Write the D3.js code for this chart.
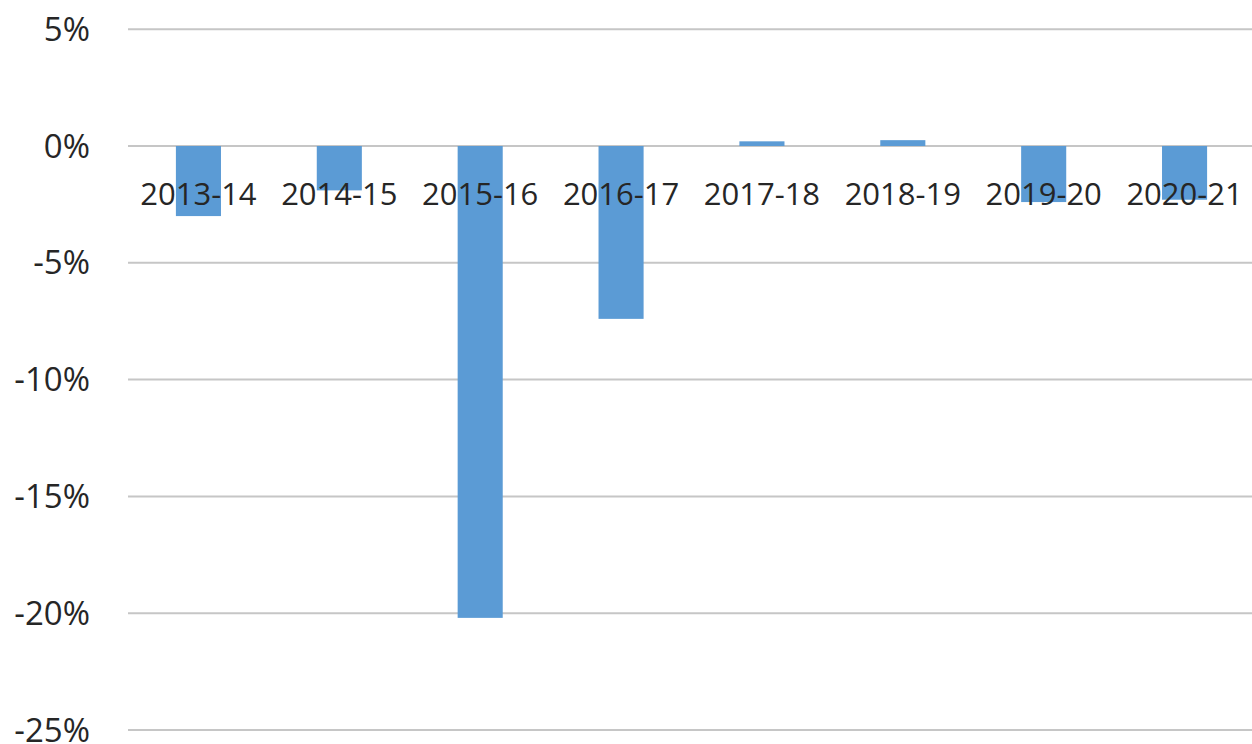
<!DOCTYPE html>
<html>
<head>
<meta charset="utf-8">
<script src="https://cdn.jsdelivr.net/npm/d3@7"></script>
<style>
  body { margin: 0; background: #fff; }
  #chart svg { display: block; }
  .tick-label { font-family: "Open Sans", sans-serif; fill: #262626; }
</style>
</head>
<body>
<div id="chart"></div>
<script>
// --- Data ---
const categories = ["2013-14", "2014-15", "2015-16", "2016-17", "2017-18", "2018-19", "2019-20", "2020-21"];
const values = [-3.0, -1.9, -20.2, -7.4, 0.2, 0.25, -2.4, -2.3];
const yTicks = [5, 0, -5, -10, -15, -20, -25];

// --- Layout ---
const width = 1252, height = 744;
const plotLeft = 128, plotRight = 1255;
const barColor = "#5b9bd5";

const svg = d3.select("#chart").append("svg").attr("width", width).attr("height", height);

const x = d3.scaleBand().domain(categories).range([plotLeft, plotRight]).padding(0);
const y = d3.scaleLinear().domain([-25, 5]).range([730, 29.2]);
const barW = x.bandwidth() * 0.32;

// gridlines
svg.append("g").selectAll("line").data(yTicks).join("line")
    .attr("x1", plotLeft).attr("x2", width)
    .attr("y1", d => y(d)).attr("y2", d => y(d))
    .attr("stroke", "#c6c6c6").attr("stroke-width", 2);

// y labels
svg.append("g").selectAll("text").data(yTicks).join("text")
    .attr("class", "tick-label")
    .attr("x", 90).attr("y", d => y(d)).attr("dy", "0.35em")
    .attr("text-anchor", "end").style("font-size", "33px")
    .text(d => d + "%");

// bars
svg.append("g").selectAll("rect").data(values).join("rect")
    .attr("x", (d, i) => x(categories[i]) + (x.bandwidth() - barW) / 2)
    .attr("width", barW)
    .attr("y", d => y(Math.max(0, d)))
    .attr("height", d => Math.abs(y(d) - y(0)))
    .attr("fill", barColor);

// category labels sit just under the zero line, over the bars
svg.append("g").selectAll("text").data(categories).join("text")
    .attr("class", "tick-label")
    .attr("x", d => x(d) + x.bandwidth() / 2).attr("y", 205)
    .attr("text-anchor", "middle").style("font-size", "31px")
    .text(d => d);
</script>
</body>
</html>
